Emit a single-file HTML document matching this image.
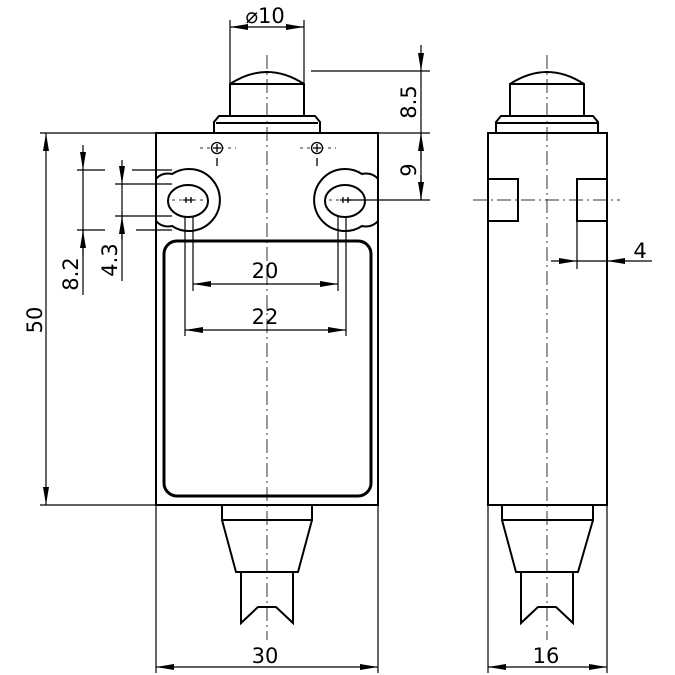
<!DOCTYPE html>
<html><head><style>html,body{margin:0;padding:0;background:#fff}svg{display:block}</style></head><body>
<svg width="675" height="675" viewBox="0 0 675 675" xmlns="http://www.w3.org/2000/svg" font-family="'DejaVu Sans','Liberation Sans',sans-serif" font-size="21" fill="none" stroke="#000">
<defs>
<marker id="a" viewBox="0 0 18 6" refX="18" refY="3" markerWidth="18" markerHeight="6" markerUnits="userSpaceOnUse" orient="auto-start-reverse"><path d="M0,0L18,3L0,6Z" fill="#000" stroke="none"/></marker>
</defs>
<g stroke-width="1" stroke-dasharray="14,4,2,4" stroke="#333">
<line x1="267" y1="55" x2="267" y2="640"/>
<line x1="547" y1="55" x2="547" y2="640"/>
<line x1="473" y1="200" x2="620" y2="200"/>
</g>
<g stroke-width="1" stroke="#333" stroke-dasharray="3,4">
<line x1="172" y1="200" x2="206" y2="200"/>
<line x1="329" y1="200" x2="362" y2="200"/>
<line x1="200" y1="148" x2="236" y2="148"/>
<line x1="300" y1="148" x2="336" y2="148"/>
</g>
<g stroke-width="2">
<rect x="156" y="133" width="222" height="372"/>
<rect x="164" y="241" width="207" height="255" rx="13" stroke-width="3"/>
<path d="M230,116V84Q267,60 304,84V116"/>
<line x1="230" y1="84" x2="304" y2="84"/>
<path d="M214,133V122L219,116H315L320,122V133"/>
<line x1="216" y1="123" x2="318" y2="123"/>
<path d="M156,179Q162,172 172,174 A31,31 0 1 1 172,226 Q162,228 156,221"/>
<ellipse cx="188" cy="201" rx="20" ry="16"/>
<path d="M378,179Q372,172 362,174 A31,31 0 1 0 362,226 Q372,228 378,221"/>
<ellipse cx="345" cy="201" rx="20" ry="16"/>
<path d="M222,505V520H312V505"/>
<path d="M222,520L236,572H298L312,520"/>
<path d="M241,572V623L258,607H276L293,623V572"/>
<rect x="488" y="133" width="119" height="372"/>
<path d="M510,116V84Q547,60 584,84V116"/>
<line x1="510" y1="84" x2="584" y2="84"/>
<path d="M496,133V122L501,116H593L598,122V133"/>
<line x1="497" y1="123" x2="597" y2="123"/>
<path d="M488,179H518V221H488"/>
<path d="M607,179H577V221H607"/>
<path d="M502,505V520H593V505"/>
<path d="M502,520L516,572H578L593,520"/>
<path d="M521,572V623L538,607H556L573,623V572"/>
</g>
<g stroke-width="1.3">
<circle cx="217" cy="148" r="5.5" fill="#fff"/><path d="M213,148h8M217,144v8"/>
<circle cx="317" cy="148" r="5.5" fill="#fff"/><path d="M313,148h8M317,144v8"/>
<line x1="217" y1="158" x2="217" y2="166"/><line x1="317" y1="158" x2="317" y2="166"/>
<path d="M186,197v6M183,200h6M191,197v6M188,200h6"/>
<path d="M343,197v6M340,200h6M348,197v6M345,200h6"/>
</g>
<g stroke-width="1.2">
<line x1="230" y1="20" x2="230" y2="84"/><line x1="304" y1="20" x2="304" y2="84"/>
<line x1="230" y1="27" x2="304" y2="27" marker-start="url(#a)" marker-end="url(#a)"/>
<line x1="311" y1="71" x2="430" y2="71"/>
<line x1="378" y1="133" x2="430" y2="133"/>
<line x1="345" y1="200" x2="430" y2="200"/>
<line x1="421" y1="45" x2="421" y2="71" marker-end="url(#a)"/>
<line x1="421" y1="71" x2="421" y2="200"/>
<line x1="421" y1="160" x2="421" y2="133" marker-end="url(#a)"/>
<line x1="421" y1="175" x2="421" y2="200" marker-end="url(#a)"/>
<line x1="40" y1="133" x2="156" y2="133"/><line x1="40" y1="505" x2="156" y2="505"/>
<line x1="46" y1="133" x2="46" y2="505" marker-start="url(#a)" marker-end="url(#a)"/>
<line x1="77" y1="170" x2="105" y2="170"/><line x1="132" y1="170" x2="172" y2="170"/>
<line x1="77" y1="230" x2="105" y2="230"/><line x1="136" y1="230" x2="172" y2="230"/>
<line x1="83" y1="145" x2="83" y2="170" marker-end="url(#a)"/>
<line x1="83" y1="170" x2="83" y2="295"/>
<line x1="83" y1="255" x2="83" y2="230" marker-end="url(#a)"/>
<line x1="115" y1="184" x2="172" y2="184"/><line x1="115" y1="216" x2="172" y2="216"/>
<line x1="122" y1="160" x2="122" y2="184" marker-end="url(#a)"/>
<line x1="122" y1="184" x2="122" y2="281"/>
<line x1="122" y1="240" x2="122" y2="216" marker-end="url(#a)"/>
<line x1="185" y1="217" x2="185" y2="336"/><line x1="193" y1="217" x2="193" y2="291"/>
<line x1="338" y1="217" x2="338" y2="291"/><line x1="346" y1="217" x2="346" y2="336"/>
<line x1="193" y1="284" x2="338" y2="284" marker-start="url(#a)" marker-end="url(#a)"/>
<line x1="185" y1="330" x2="346" y2="330" marker-start="url(#a)" marker-end="url(#a)"/>
<line x1="156" y1="505" x2="156" y2="673"/><line x1="378" y1="505" x2="378" y2="673"/>
<line x1="156" y1="667" x2="378" y2="667" marker-start="url(#a)" marker-end="url(#a)"/>
<line x1="488" y1="505" x2="488" y2="673"/><line x1="607" y1="505" x2="607" y2="673"/>
<line x1="488" y1="667" x2="607" y2="667" marker-start="url(#a)" marker-end="url(#a)"/>
<line x1="577" y1="221" x2="577" y2="269"/>
<line x1="551" y1="261" x2="577" y2="261" marker-end="url(#a)"/>
<line x1="652" y1="261" x2="607" y2="261" marker-end="url(#a)"/>
<line x1="577" y1="261" x2="607" y2="261"/>
</g>
<g fill="#000" stroke="none">
<text x="265" y="23" text-anchor="middle">⌀10</text>
<text x="265" y="278" text-anchor="middle">20</text>
<text x="265" y="324" text-anchor="middle">22</text>
<text x="265" y="663" text-anchor="middle">30</text>
<text x="546" y="663" text-anchor="middle">16</text>
<text x="640" y="258" text-anchor="middle">4</text>
<text transform="translate(416,102) rotate(-90)" text-anchor="middle">8.5</text>
<text transform="translate(416,170) rotate(-90)" text-anchor="middle">9</text>
<text transform="translate(42,320) rotate(-90)" text-anchor="middle">50</text>
<text transform="translate(78,274) rotate(-90)" text-anchor="middle">8.2</text>
<text transform="translate(117,260) rotate(-90)" text-anchor="middle">4.3</text>
</g>
</svg>
</body></html>
